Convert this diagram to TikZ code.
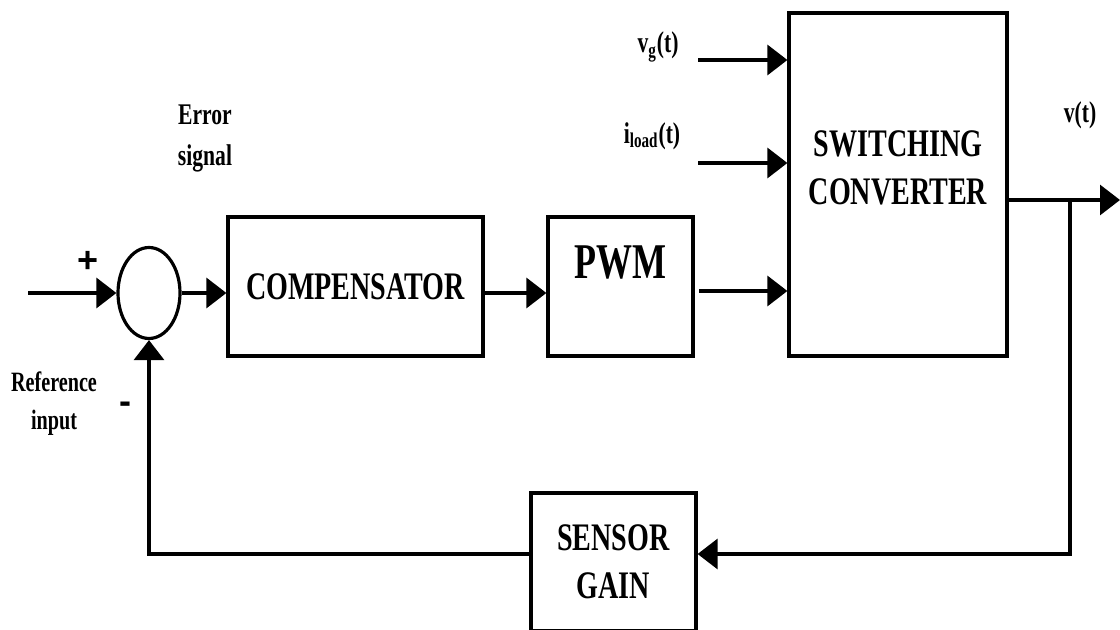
\documentclass[tikz,border=0pt]{standalone}
\usepackage{fontspec}
\setmainfont{Liberation Serif}[FakeStretch=0.72]
\newfontfamily\signfont{Liberation Sans}
\usetikzlibrary{arrows.meta, shapes.geometric}

\begin{document}
\begin{tikzpicture}[x=0.5pt, y=-0.5pt, line width=1.6pt,
    block/.style={draw, rectangle, inner sep=0pt},
    boxtxt/.style={font=\fontsize{19.5}{24}\selectfont\bfseries, align=center},
    lbl/.style={font=\fontsize{14}{19}\selectfont\bfseries, align=center},
    sign/.style={font=\fontsize{18}{18}\selectfont\signfont\bfseries},
    sig/.style={-{Triangle[length=10pt, width=15pt]}}]
  \useasboundingbox (0,0) rectangle (1120,630);

  \node[draw, ellipse, minimum width=31pt, minimum height=45.5pt, inner sep=0pt] (sum) at (149,293) {};
  \node[block, boxtxt, minimum width=127.5pt, minimum height=69.5pt] (comp) at (355.5,286.5) {COMPENSATOR};
  \node[block, minimum width=72.5pt, minimum height=69.5pt] (pwm) at (620.5,286.5) {};
  \node[font=\fontsize{25}{30}\selectfont\bfseries] (pwmtxt) at (620.5,263) {PWM};
  \node[block, minimum width=109pt, minimum height=171.5pt] (conv) at (898,184.5) {};
  \node[boxtxt] (convtxt) at (898,168) {SWITCHING\\CONVERTER};
  \node[block, boxtxt, minimum width=82.5pt, minimum height=69pt] (sens) at (613.5,562) {SENSOR\\GAIN};

  \coordinate (refin) at (28,293);
  \coordinate (vgin) at (698,60);
  \coordinate (ilin) at (698,163);
  \coordinate (pwmout) at (699,291);
  \coordinate (vout) at (1120,200);
  \coordinate (branch) at (1070,200);
  \coordinate (fb) at (1070,554);

  \draw[sig] (refin) -- (sum.west);
  \draw[sig] (sum.east) -- (sum.east -| comp.west);
  \draw[sig] (sum.east -| comp.east) -- (sum.east -| pwm.west);
  \draw[sig] (pwmout) -- (pwmout -| conv.west);
  \draw[sig] (vgin) -- (vgin -| conv.west);
  \draw[sig] (ilin) -- (ilin -| conv.west);
  \draw[sig] (vout -| conv.east) -- (vout);
  \draw[sig] (branch) -- (fb) -- (fb -| sens.east);
  \draw[sig] (fb -| sens.west) -- (fb -| sum.south) -- (sum.south);

  \node[sign] (plus) at (88,262) {+};
  \node[sign] (minus) at (125,408) {-};
  \node[lbl] (reflbl) at (54,404) {Reference\\input};
  \node[lbl, font=\fontsize{15}{20.5}\selectfont\bfseries] (errlbl) at (205,138) {Error\\signal};
  \node[lbl, font=\fontsize{15}{19}\selectfont\bfseries] (vglbl) at (658,47) {v\textsubscript{g}(t)};
  \node[lbl, font=\fontsize{15}{19}\selectfont\bfseries] (illbl) at (652,136) {i\textsubscript{load}(t)};
  \node[lbl, font=\fontsize{15}{19}\selectfont\bfseries] (vlbl) at (1080,115) {v(t)};
\end{tikzpicture}
\end{document}
